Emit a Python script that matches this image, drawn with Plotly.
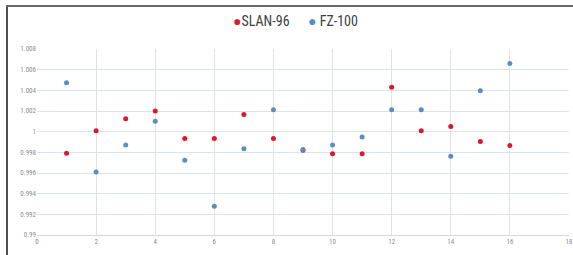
import plotly.graph_objects as go

x_vals = list(range(1, 17))
slan_96 = [0.9979, 1.0001, 1.00125, 1.0020, 0.99933, 0.99933, 1.00166, 0.99933,
           0.99820, 0.99786, 0.99786, 1.0043, 1.0001, 1.0005, 0.99904, 0.99865]
fz_100 = [1.00474, 0.99609, 0.99872, 1.0010, 0.99724, 0.99279, 0.99834, 1.00212,
          0.99827, 0.99872, 0.99949, 1.00212, 1.00212, 0.99763, 1.00397, 1.0066]
x_ticks = list(range(0, 19, 2))
y_ticks = [0.99, 0.992, 0.994, 0.996, 0.998, 1.0, 1.002, 1.004, 1.006, 1.008]
y_tick_labels = ["0.99", "0.992", "0.994", "0.996", "0.998", "1", "1.002", "1.004", "1.006", "1.008"]

RED = "#D9192E"
BLUE = "#5B8EC0"

W, H = 573, 255
ml, mr, mt, mb = 37, 4, 49, 20
pw, ph = W - ml - mr, H - mt - mb


def px_x(p):
    return (p - ml) / pw


def px_y(p):
    return 1 + (mt - p) / ph


fig = go.Figure()
fig.add_trace(go.Scatter(x=x_vals, y=slan_96, mode="markers", name="SLAN-96",
                         marker=dict(color=RED, size=5)))
fig.add_trace(go.Scatter(x=x_vals, y=fz_100, mode="markers", name="FZ-100",
                         marker=dict(color=BLUE, size=5)))

font_main = "Liberation Sans Narrow, Roboto Condensed, Arial Narrow, Liberation Sans, sans-serif"
legend_y = px_y(21)
fig.update_layout(
    width=W, height=H,
    margin=dict(l=ml, r=mr, t=mt, b=mb),
    paper_bgcolor="white", plot_bgcolor="white",
    showlegend=False,
    xaxis=dict(range=[0, 18], tickvals=x_ticks, ticktext=[str(v) for v in x_ticks],
               showgrid=True, gridcolor="#DCE3EC", gridwidth=1, zeroline=False,
               showline=True, linecolor="#D9D9D9", ticks="", automargin=False,
               tickfont=dict(family=font_main, size=7, color="#8C8C8C")),
    yaxis=dict(range=[0.99, 1.008], tickvals=y_ticks, ticktext=y_tick_labels,
               showgrid=True, gridcolor="#DCE3EC", gridwidth=1, zeroline=False,
               showline=False, ticks="", automargin=False,
               tickfont=dict(family=font_main, size=7, color="#8C8C8C")),
    annotations=[
        dict(xref="paper", yref="paper", x=px_x(231), y=legend_y,
             xanchor="left", yanchor="middle", showarrow=False,
             text=f"<span style='color:{RED}'>●</span>SLAN-96",
             font=dict(family=font_main, size=14, color="#404040")),
        dict(xref="paper", yref="paper", x=px_x(306), y=legend_y,
             xanchor="left", yanchor="middle", showarrow=False,
             text=f"<span style='color:{BLUE}'>●</span> FZ-100",
             font=dict(family=font_main, size=14, color="#404040")),
    ],
    shapes=[
        dict(type="line", xref="paper", yref="paper",
             x0=px_x(7), x1=px_x(7), y0=px_y(255), y1=px_y(5),
             line=dict(color="#505050", width=2)),
        dict(type="line", xref="paper", yref="paper",
             x0=px_x(6), x1=px_x(573), y0=px_y(6), y1=px_y(6),
             line=dict(color="#6A6A6A", width=2)),
    ],
)
fig.write_html("out.html", config={"displayModeBar": False},
               post_script="document.body.style.margin='0';document.body.style.overflow='hidden';")
